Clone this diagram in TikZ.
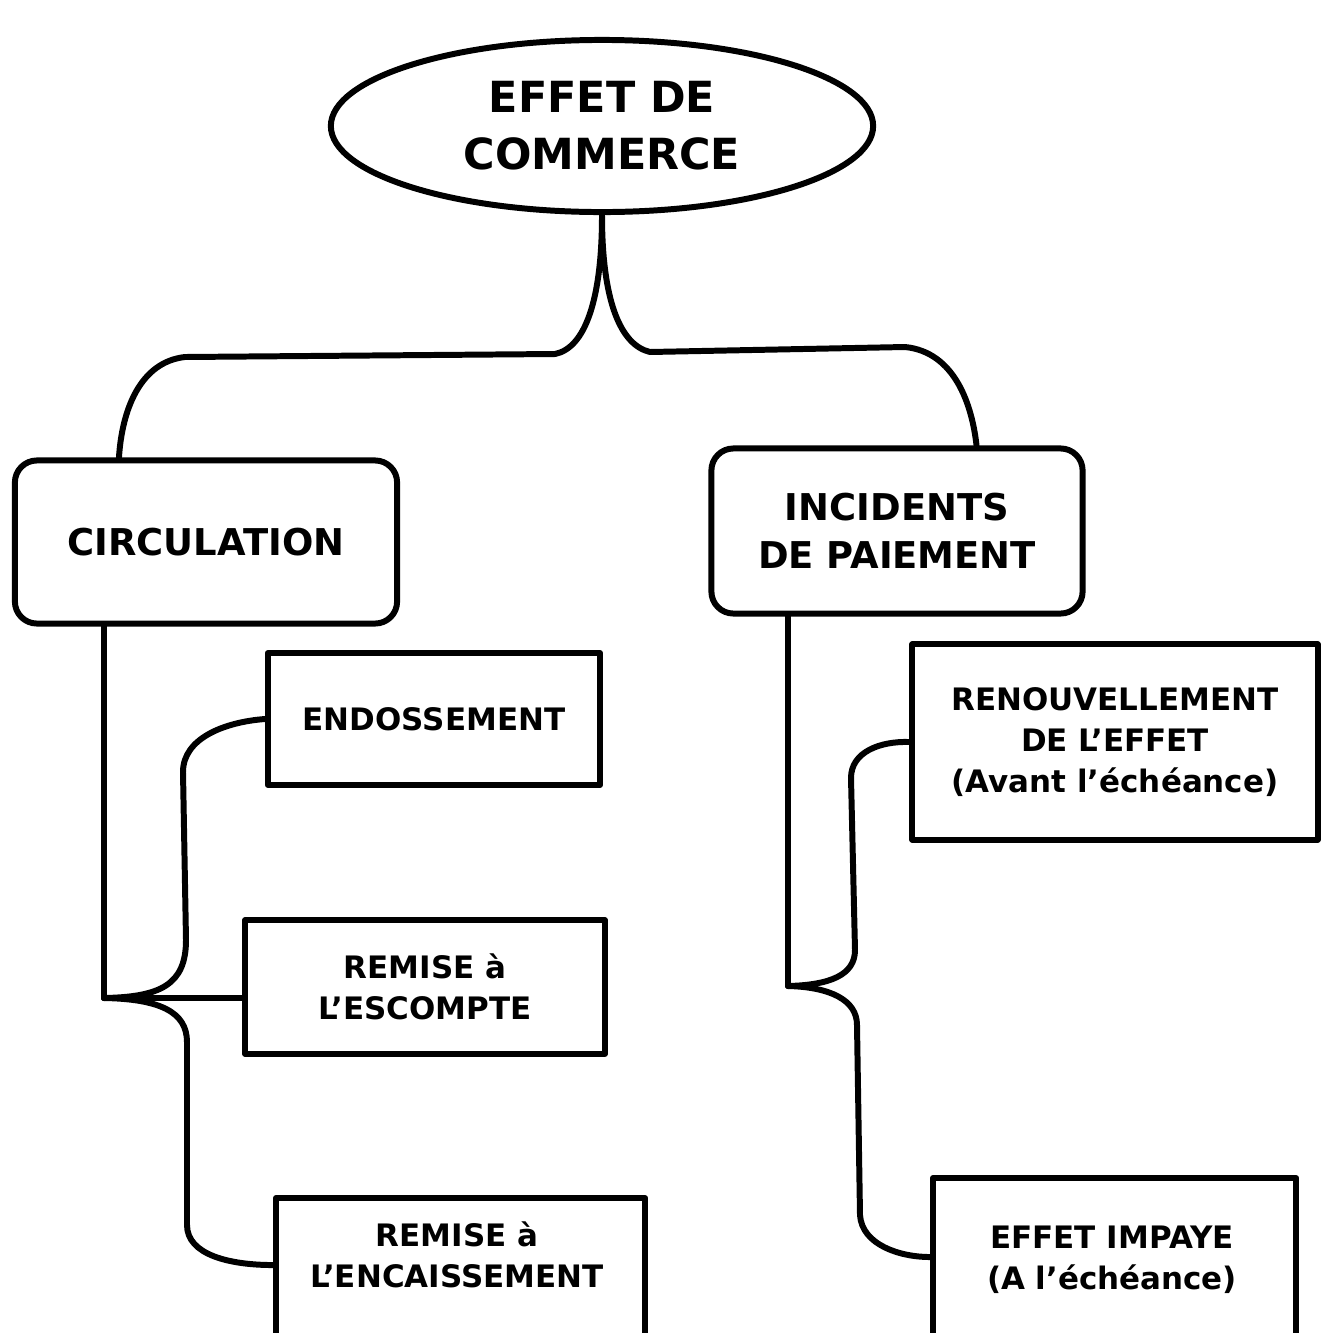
\documentclass[tikz,border=0pt]{standalone}
\usepackage{fontspec}
\setmainfont{DejaVu Sans}
\usetikzlibrary{shapes.geometric}
\begin{document}
\begin{tikzpicture}[x=0.01cm,y=-0.01cm,
  line width=1.7pt, line join=round, line cap=round,
  mainshape/.style={draw, ellipse, inner sep=0pt, align=center,
    font=\bfseries\fontsize{12.2}{16.2}\selectfont},
  rbox/.style={draw, rounded corners=0.22cm, inner sep=0pt, align=center,
    font=\bfseries\fontsize{10.5}{13.7}\selectfont},
  sbox/.style={draw, inner sep=0pt, align=center,
    font=\bfseries\fontsize{8.8}{11.6}\selectfont},
  lbl/.style={inner sep=0pt, align=center,
    font=\bfseries\fontsize{8.8}{11.6}\selectfont},
]
\useasboundingbox (0,0) rectangle (1324,1333);
\clip (0,0) rectangle (1324,1333);

% root
\node[mainshape, minimum width=5.42cm, minimum height=1.72cm] (top) at (602,126)
  {EFFET DE\\COMMERCE};

% second level
\node[rbox, minimum width=3.82cm, minimum height=1.63cm] (circ) at (206,542)
  {CIRCULATION};
\node[rbox, minimum width=3.71cm, minimum height=1.65cm] (inc) at (897,531)
  {INCIDENTS\\DE PAIEMENT};

% third level, left
\node[sbox, minimum width=3.32cm, minimum height=1.32cm] (endo) at (434,719)
  {ENDOSSEMENT};
\node[sbox, minimum width=3.60cm, minimum height=1.33cm] (esc) at (425,987)
  {REMISE à\\L’ESCOMPTE};
\node[sbox, minimum width=3.69cm, minimum height=1.75cm, anchor=north west] (enc) at (273,1195) {};
\node[lbl] (enctxt) at (457,1255) {REMISE à\\L’ENCAISSEMENT};

% third level, right
\node[sbox, minimum width=4.05cm, minimum height=1.95cm] (ren) at (1115,742)
  {RENOUVELLEMENT\\DE L’EFFET\\(Avant l’échéance)};
\node[sbox, minimum width=3.63cm, minimum height=1.95cm, anchor=north west] (imp) at (930,1175) {};
\node[lbl] (imptxt) at (1112,1260) {EFFET IMPAYE\\(A l’échéance)};

% brace under the root
\draw (top.south) .. controls (602,300) and (585,348) .. (555,354)
  -- (185,357) .. controls (140,362) and (122,410) .. ([xshift=1.07cm]circ.north west);
\draw (top.south) .. controls (602,300) and (620,345) .. (650,352)
  -- (905,347) .. controls (955,352) and (972,405) .. ([xshift=-1.09cm]inc.north east);

% left brace
\coordinate (lcusp) at (104,998);
\draw (lcusp |- circ.south) -- (lcusp);
\draw (lcusp) .. controls (160,997) and (186,985) .. (186,940)
  -- (183,772) .. controls (183,738) and (225,722) .. (endo.west);
\draw (lcusp) -- (esc.west |- lcusp);
\draw (lcusp) .. controls (160,999) and (187,1012) .. (187,1042)
  -- (187,1225) .. controls (187,1255) and (230,1265) .. ([yshift=-0.7cm]enc.north west);

% right brace
\coordinate (rcusp) at (788,986);
\draw (rcusp |- inc.south) -- (rcusp);
\draw (rcusp) .. controls (830,985) and (855,975) .. (855,950)
  -- (851,778) .. controls (851,752) and (880,741) .. (ren.west);
\draw (rcusp) .. controls (830,987) and (857,1000) .. (857,1025)
  -- (860,1215) .. controls (862,1245) and (900,1257) .. ([yshift=-0.82cm]imp.north west);
\end{tikzpicture}
\end{document}
